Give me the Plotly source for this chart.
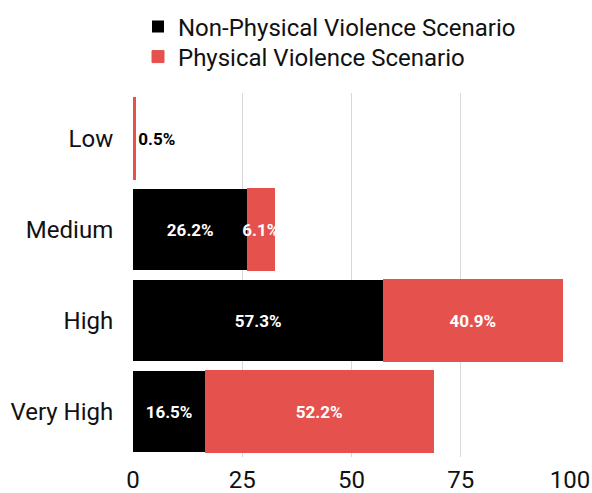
import plotly.graph_objects as go

categories = ["Low", "Medium", "High", "Very High"]
non_physical = [0.0, 26.2, 57.3, 16.5]
physical = [0.5, 6.1, 40.9, 52.2]
x_ticks = [0, 25, 50, 75, 100]

BLACK = "#000000"
RED = "#e5524d"
FONT = "Roboto, sans-serif"
TXT = "#111111"

# plot area in pixels: x 133..570, y 93..457
PLOT_TOP, PLOT_BOTTOM = 93, 457


def paper_y(px):
    return (PLOT_BOTTOM - px) / (PLOT_BOTTOM - PLOT_TOP)


def labels(values):
    return [f"{v:.1f}%" if v > 0 else "" for v in values]


fig = go.Figure()
fig.add_trace(go.Bar(
    name="Non-Physical Violence Scenario", legend="legend", showlegend=True,
    y=categories, x=non_physical, orientation="h",
    marker=dict(color=BLACK, line=dict(width=0)),
    text=labels(non_physical),
    textposition="inside", insidetextanchor="middle",
    constraintext="none", textangle=0,
    textfont=dict(family=FONT, size=17, color="white", weight="bold"),
))
fig.add_trace(go.Bar(
    name="Physical Violence Scenario", legend="legend2", showlegend=True,
    y=categories, x=physical, orientation="h",
    marker=dict(color=RED, line=dict(width=1, color=RED)),
    text=labels(physical),
    textposition=["outside" if v < 2 else "inside" for v in physical],
    insidetextanchor="middle",
    constraintext="none", textangle=0, cliponaxis=False,
    textfont=dict(family=FONT, size=17,
                  color=["black" if v < 2 else "white" for v in physical],
                  weight="bold"),
))

legend_style = dict(
    orientation="v", xanchor="left", yanchor="middle",
    x=(138 - 133) / 437, visible=True,
    font=dict(family=FONT, size=24, color=TXT),
    bgcolor="rgba(0,0,0,0)",
)

fig.update_layout(
    width=592, height=493, showlegend=True,
    barmode="stack", bargap=0.1,
    margin=dict(l=133, r=22, t=PLOT_TOP, b=493 - PLOT_BOTTOM, autoexpand=False),
    paper_bgcolor="white", plot_bgcolor="white",
    font=dict(family=FONT, color=TXT),
    legend=dict(legend_style, y=paper_y(27)),
    legend2=dict(legend_style, y=paper_y(57)),
    xaxis=dict(
        range=[0, 100], tickvals=x_ticks, automargin=False,
        showgrid=True, gridcolor="#d9d9d9", gridwidth=1,
        zeroline=False, showline=False,
        tickfont=dict(family=FONT, size=24, color=TXT),
        ticks="outside", ticklen=1, tickcolor="rgba(0,0,0,0)",
    ),
    yaxis=dict(
        categoryorder="array", categoryarray=categories[::-1],
        automargin=False,
        showgrid=False, zeroline=False, showline=False,
        ticks="outside", ticklen=14, tickcolor="rgba(0,0,0,0)",
        tickfont=dict(family=FONT, size=24, color=TXT),
    ),
)

fig.write_html("out.html")
